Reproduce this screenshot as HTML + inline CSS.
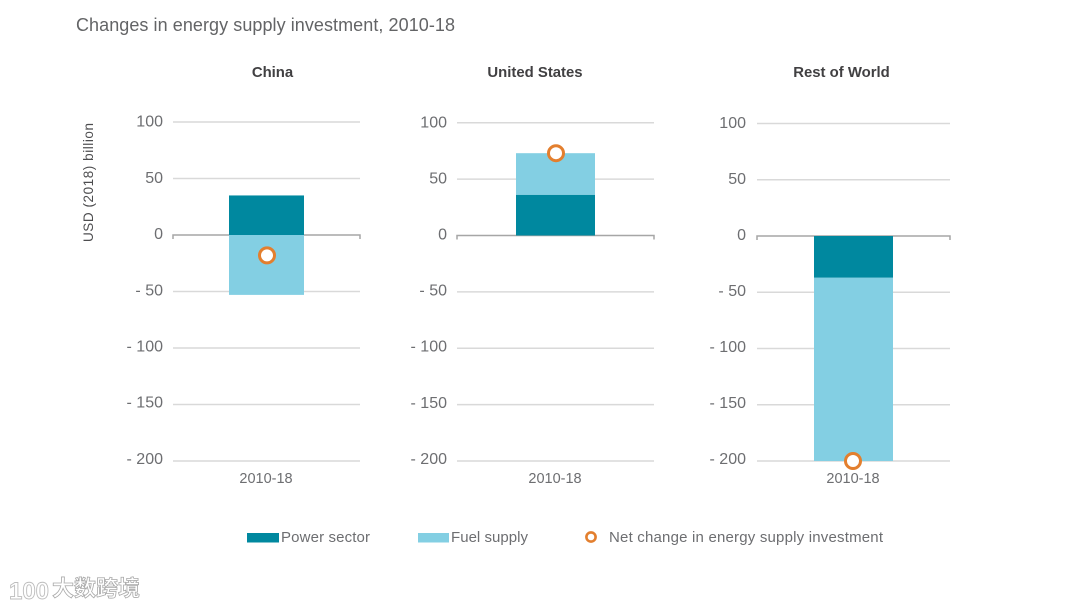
<!DOCTYPE html>
<html lang="en">
<head>
<meta charset="utf-8">
<title>Changes in energy supply investment, 2010-18</title>
<style>
  html, body { margin: 0; padding: 0; background: #fff; }
  svg { display: block; }
  text { font-family: "Liberation Sans", "Noto Sans CJK SC", sans-serif; }
</style>
</head>
<body>
<svg id="chart" xmlns="http://www.w3.org/2000/svg" width="1080" height="608" viewBox="0 0 1080 608">
  <text x="76" y="31" font-size="18" fill="#636466" textLength="379">Changes in energy supply investment, 2010-18</text>
  <text transform="translate(93,242) rotate(-90)" font-size="13.5" fill="#4d4d4f" textLength="119">USD (2018) billion</text>

  <g>
    <rect x="247" y="533" width="32" height="9.5" fill="#00889f"/>
    <text x="281" y="542" font-size="15" fill="#6d6e71" textLength="89">Power sector</text>
    <rect x="418" y="533" width="31" height="9.5" fill="#83cfe3"/>
    <text x="451" y="542" font-size="15" fill="#6d6e71" textLength="77">Fuel supply</text>
    <circle cx="591" cy="537" r="4.6" fill="#fff" stroke="#e37f2e" stroke-width="2.6"/>
    <text x="609" y="542" font-size="15" fill="#6d6e71" textLength="274">Net change in energy supply investment</text>
  </g>

  <g>
    <text x="9" y="599" font-size="24" font-weight="bold" fill="#fff" stroke="#bdbdbd" stroke-width="0.9" textLength="40">100</text>
    <text x="52" y="596" font-size="22" font-weight="bold" fill="#fff" stroke="#a9a9a9" stroke-width="0.8" textLength="88">大数跨境</text>
  </g>
</svg>

<script>
const panelNames = ['China', 'United States', 'Rest of World'];
const categoryLabel = ['2010-18', '2010-18', '2010-18'];
const powerValues = [35, 36, -37];
const fuelValues = [-53, 37, -163];
const netValues = [-18, 73, -200];
const tickValues = [100, 50, 0, -50, -100, -150, -200];
const tickLabels = ['100', '50', '0', '- 50', '- 100', '- 150', '- 200'];

const layouts = [
  { left: 173, right: 360, barLeft: 229, barRight: 304, top: 122, zero: 235, bottom: 461, labelX: 163, titleX: 272.5, markerX: 267, catX: 266 },
  { left: 457, right: 654, barLeft: 516, barRight: 595, top: 122.5, zero: 235.5, bottom: 461, labelX: 447, titleX: 535, markerX: 556, catX: 555 },
  { left: 757, right: 950, barLeft: 814, barRight: 893, top: 123, zero: 236, bottom: 461, labelX: 746, titleX: 841.5, markerX: 853, catX: 853 }
];

const NS = 'http://www.w3.org/2000/svg';
const svg = document.getElementById('chart');

function make(tag, attrs, parent, content) {
  const el = document.createElementNS(NS, tag);
  Object.keys(attrs).forEach(function (k) { el.setAttribute(k, attrs[k]); });
  if (content !== undefined) el.textContent = content;
  parent.appendChild(el);
  return el;
}

function yScale(layout, value) {
  const perUnit = (layout.bottom - layout.zero) / 200;
  return layout.zero - value * perUnit;
}

function drawSegment(layout, parent, start, value, fill) {
  const y0 = yScale(layout, start);
  const y1 = yScale(layout, start + value);
  return make('rect', {
    x: layout.barLeft,
    y: Math.min(y0, y1),
    width: layout.barRight - layout.barLeft,
    height: Math.abs(y1 - y0),
    fill: fill
  }, parent);
}

panelNames.forEach(function (name, i) {
  const L = layouts[i];
  const g = make('g', {}, svg);
  
  

  const title = make('text', { x: L.titleX, y: 77, 'text-anchor': 'middle', 'font-size': 14.9, 'font-weight': 'bold', fill: '#414042' }, g, name);
  
  

  tickValues.forEach(function (t, j) {
    const y = yScale(L, t);
    if (t !== 0) {
      const line = make('line', { x1: L.left, x2: L.right, y1: y, y2: y, stroke: '#d9d9d9', 'stroke-width': 1.5 }, g);
      
      
    }
    const label = make('text', { x: L.labelX, y: y + 4.7 - (y - yScale(L, 100)) * 0.0055, 'text-anchor': 'end', 'font-size': 16, fill: '#6d6e71' }, g, tickLabels[j]);
    
    
  });

  const zeroY = yScale(L, 0);
  const axis = make('path', {
    d: 'M' + L.left + ' ' + (zeroY + 4) + 'V' + zeroY + 'H' + L.right + 'V' + (zeroY + 4),
    fill: 'none', stroke: '#a6a6a6', 'stroke-width': 1.5
  }, g);
  
  

  const power = powerValues[i];
  const fuel = fuelValues[i];
  const fuelStart = (power > 0) === (fuel > 0) ? power : 0;

  const fuelBar = drawSegment(L, g, fuelStart, fuel, '#83cfe3');
  
  

  const powerBar = drawSegment(L, g, 0, power, '#00889f');
  
  

  const marker = make('circle', { cx: L.markerX, cy: yScale(L, netValues[i]), r: 7.5, fill: '#fff', stroke: '#e37f2e', 'stroke-width': 3 }, g);
  
  

  const cat = make('text', { x: L.catX, y: 483, 'text-anchor': 'middle', 'font-size': 14.5, fill: '#6d6e71' }, g, categoryLabel[i]);
  
  
});
</script>
</body>
</html>
